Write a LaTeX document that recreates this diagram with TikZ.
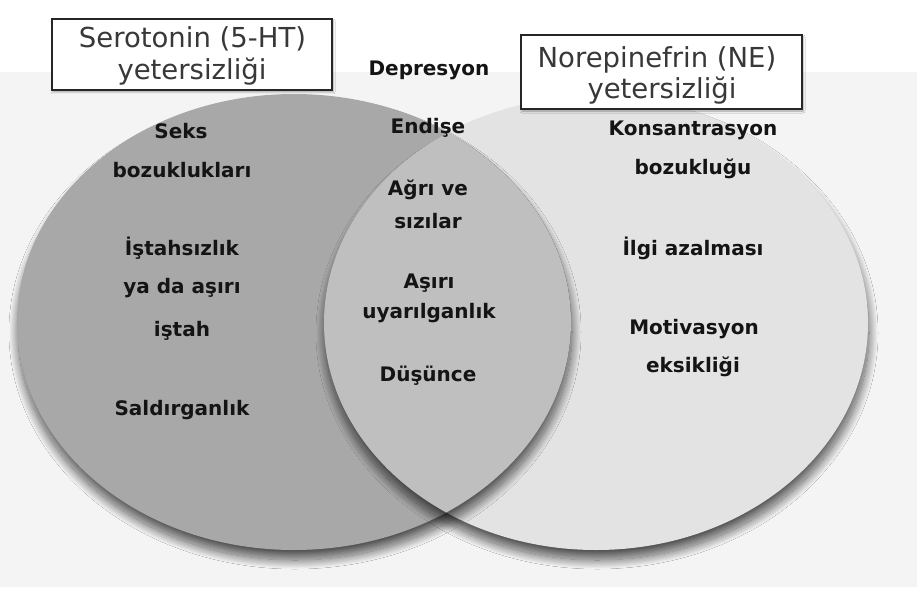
\documentclass[tikz,border=0pt]{standalone}
\usepackage{fontspec}
\setmainfont{DejaVu Sans}
\usetikzlibrary{shadows.blur}
\definecolor{bandgray}{HTML}{F4F4F4}
\definecolor{leftgray}{HTML}{A8A8A8}
\definecolor{rightgray}{HTML}{E3E3E3}
\definecolor{lensgray}{HTML}{BFBFBF}
\tikzset{
  lbl/.style={anchor=base, inner sep=0pt, font=\fontsize{20}{24}\selectfont\bfseries, text=black!92},
  ttl/.style={anchor=base, inner sep=0pt, font=\fontsize{27.5}{32}\selectfont, text=black!78},
  titlebox/.style={draw=black!85, line width=1.6pt, fill=white, inner sep=0pt,
    blur shadow={shadow xshift=1pt, shadow yshift=-2pt, shadow blur radius=2pt, shadow opacity=35}},
  venn shadow/.style={blur shadow={shadow xshift=1pt, shadow yshift=-10pt, shadow blur radius=9pt, shadow opacity=65, shadow blur steps=30}}
}
\begin{document}
\begin{tikzpicture}[x=1pt, y=-1pt]
  \useasboundingbox (0,0) rectangle (920,596);
  \fill[white] (0,0) rectangle (920,596);
  \fill[bandgray] (0,72) rectangle (917,587);
  % right set
  \path[venn shadow, fill=rightgray] (596,323) ellipse [x radius=272pt, y radius=227pt];
  % left set
  \path[venn shadow, fill=leftgray] (294,322) ellipse [x radius=277pt, y radius=228pt];
  % intersection
  \begin{scope}
    \clip (294,322) ellipse [x radius=277pt, y radius=228pt];
    \path[venn shadow, fill=lensgray] (596,323) ellipse [x radius=272pt, y radius=227pt];
  \end{scope}
  % title boxes
  \node[titlebox, minimum width=280pt, minimum height=71pt] (serobox) at (192,54.5) {};
  \node[ttl] (sero1) at (192.5,48) {Serotonin (5-HT)};
  \node[ttl] (sero2) at (192,80) {yetersizliği};
  \node[titlebox, minimum width=281pt, minimum height=74pt] (nebox) at (661.5,72) {};
  \node[ttl] (ne1) at (657,68) {Norepinefrin (NE)};
  \node[ttl] (ne2) at (662,99) {yetersizliği};
  % centre
  \node[lbl] (dep) at (429,76) {Depresyon};
  \node[lbl] (end) at (428,134) {Endişe};
  \node[lbl] (agri1) at (428,196) {Ağrı ve};
  \node[lbl] (agri2) at (428,228) {sızılar};
  \node[lbl] (asiri1) at (429,288) {Aşırı};
  \node[lbl] (asiri2) at (429,318) {uyarılganlık};
  \node[lbl] (dus) at (428,381) {Düşünce};
  % left
  \node[lbl] (seks1) at (181,139) {Seks};
  \node[lbl] (seks2) at (182,178) {bozuklukları};
  \node[lbl] (ist1) at (182,255) {İştahsızlık};
  \node[lbl] (ist2) at (182,293) {ya da aşırı};
  \node[lbl] (ist3) at (182,336) {iştah};
  \node[lbl] (sald) at (182,415) {Saldırganlık};
  % right
  \node[lbl] (kon1) at (693,136) {Konsantrasyon};
  \node[lbl] (kon2) at (693,175) {bozukluğu};
  \node[lbl] (ilgi) at (693,255) {İlgi azalması};
  \node[lbl] (mot1) at (694,334) {Motivasyon};
  \node[lbl] (mot2) at (693,372) {eksikliği};
\end{tikzpicture}
\end{document}
